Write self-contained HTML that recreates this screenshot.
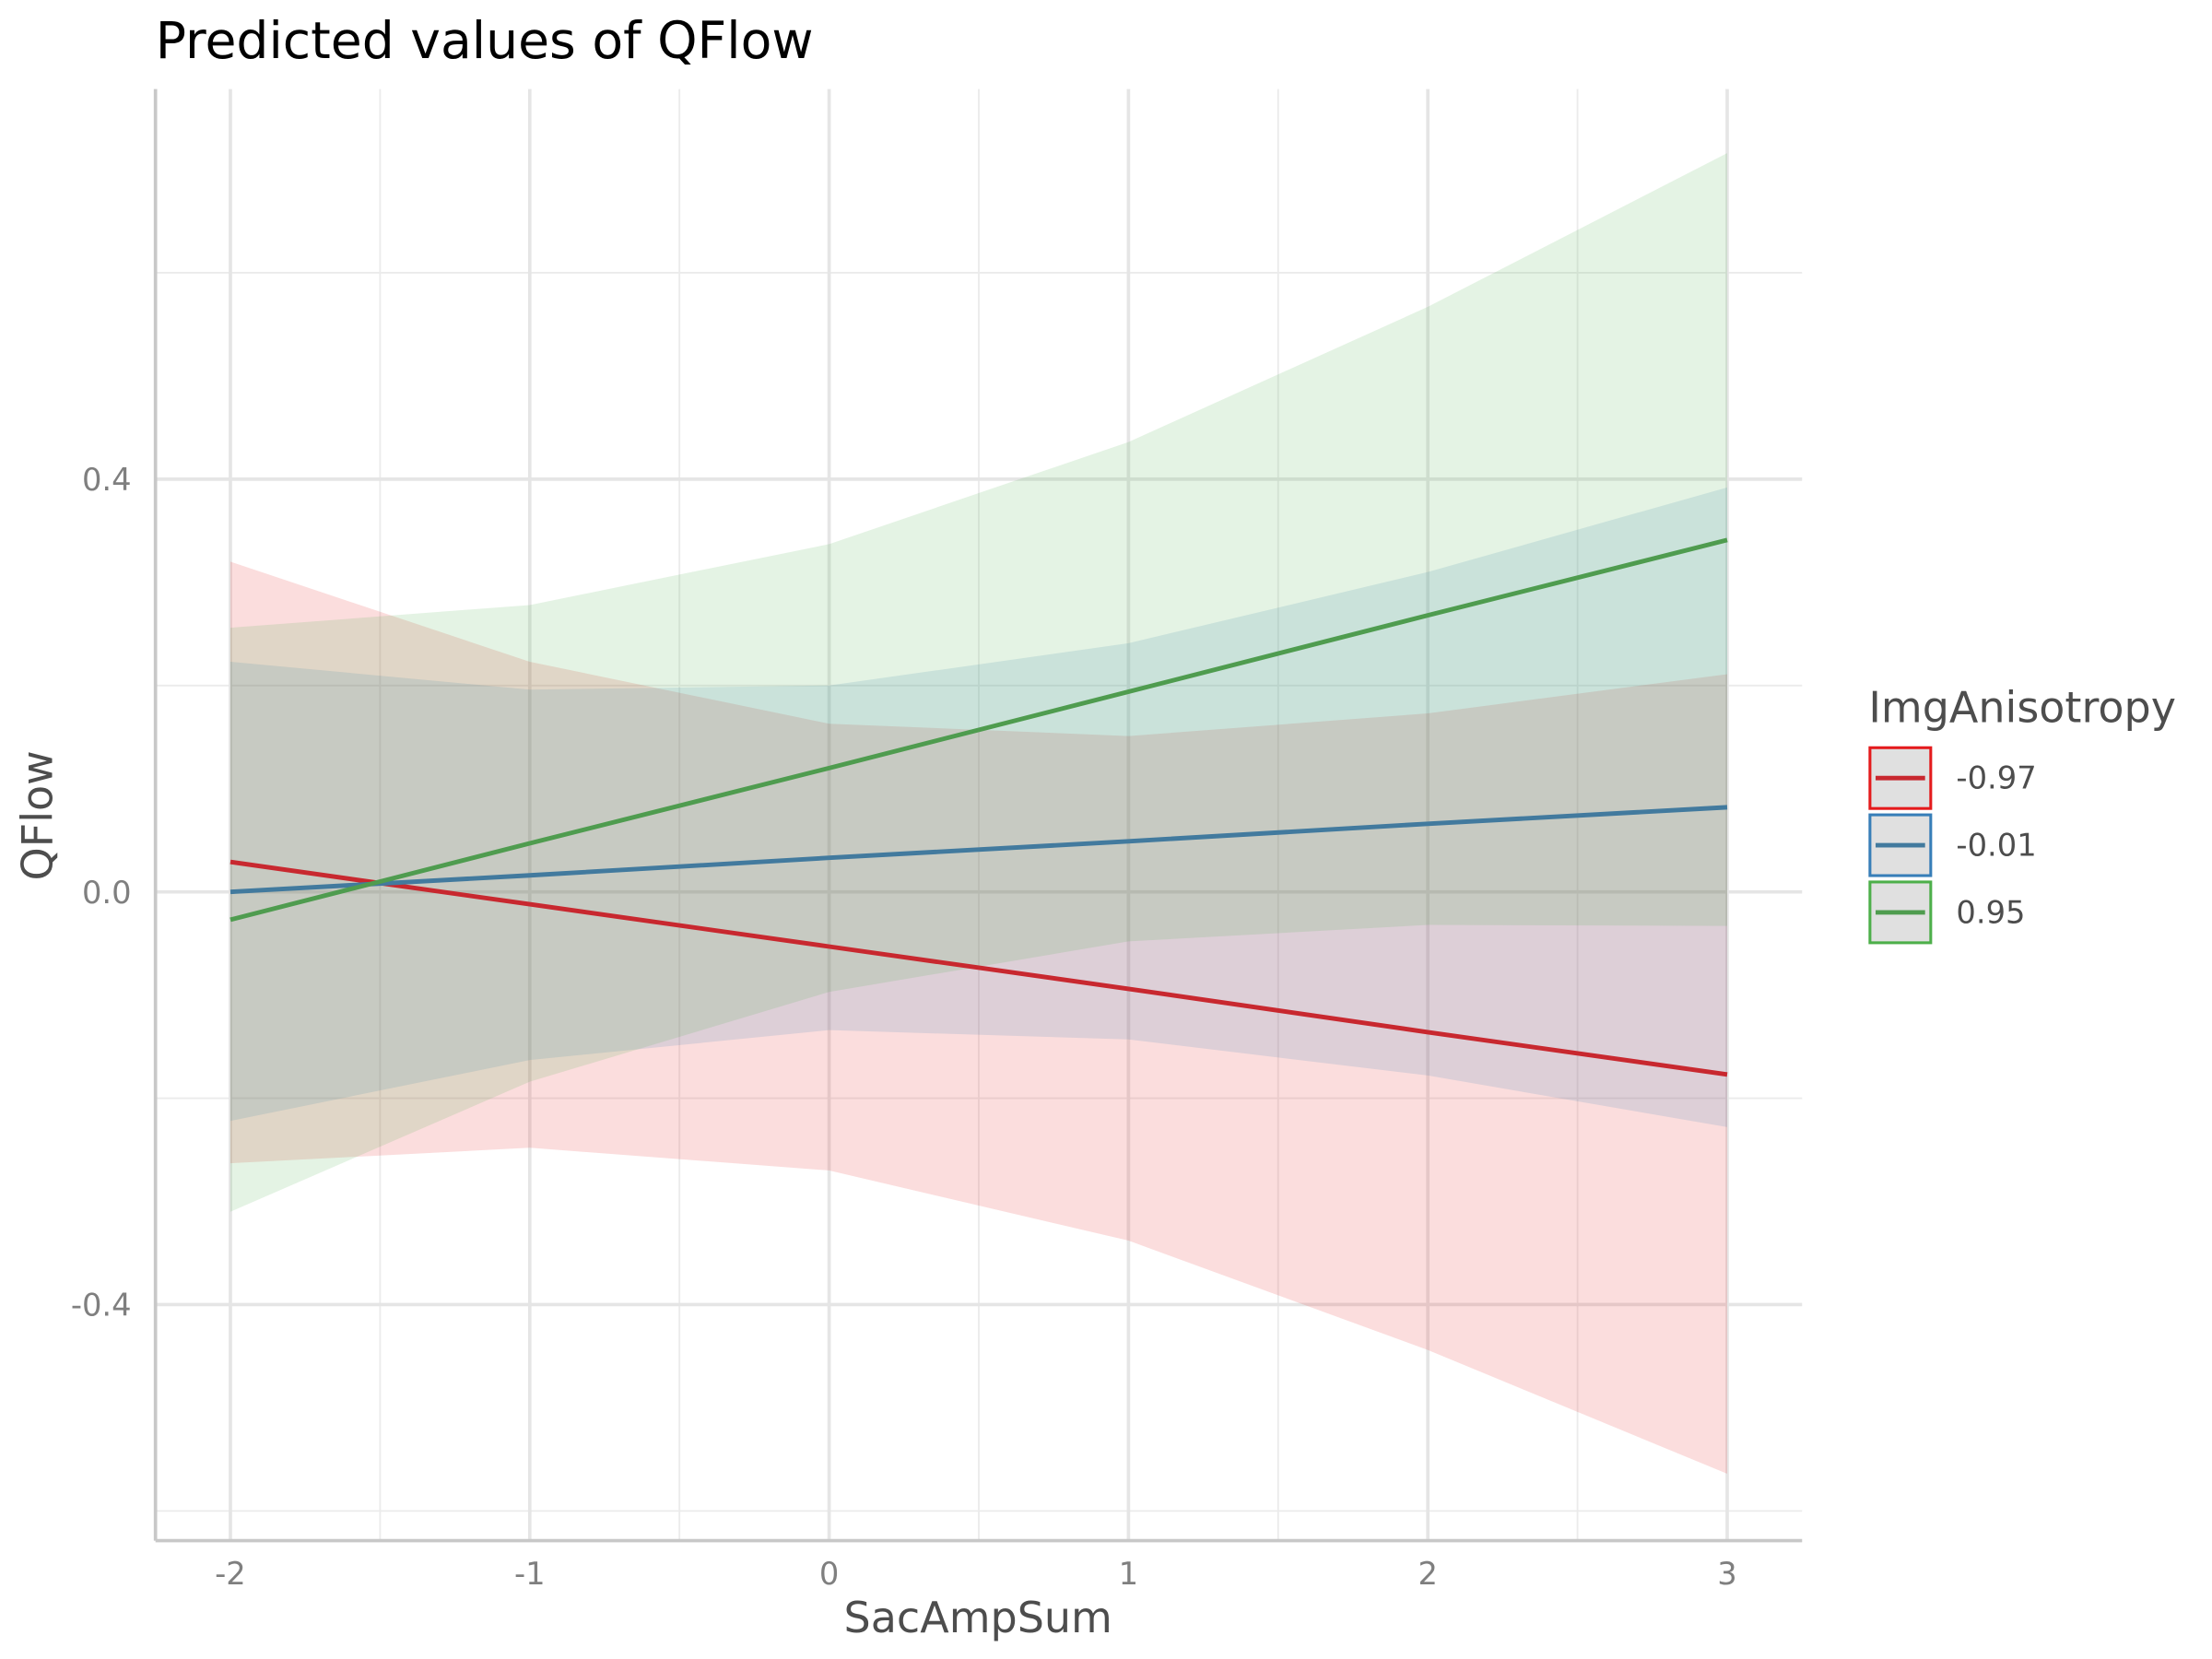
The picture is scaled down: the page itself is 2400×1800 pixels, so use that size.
<!DOCTYPE html>
<html><head><meta charset="utf-8"><style>
html,body{margin:0;padding:0;background:#fff}
svg{display:block}
text{font-family:"DejaVu Sans","Liberation Sans",sans-serif}
</style></head><body>
<svg id="chart" width="2400" height="1800" viewBox="0 0 1565 1173.75" xmlns="http://www.w3.org/2000/svg">
<g id="grid"></g>
<g id="ribbons"></g>
<g id="lines"></g>
<g id="axes"></g>
<text x="110" y="41" font-size="36" fill="#000">Predicted values of QFlow</text>
<text x="692" y="1155" font-size="30" fill="#4d4d4d" text-anchor="middle">SacAmpSum</text>
<text transform="translate(37,577) rotate(-90)" font-size="30" fill="#4d4d4d" text-anchor="middle">QFlow</text>
<g id="legend">
<text x="1322" y="511" font-size="30" fill="#4d4d4d">ImgAnisotropy</text>
</g>
</svg>
<script>
const xVals=[-2,-1,0,1,2,3];
const seriesNames=["-0.97","-0.01","0.95"];
const colors=["#E41A1C","#377EB8","#4DAF4A"];
const lineColors=["#c8282f","#427a9e","#4f9c4f"];
const redFit=[0.029,-0.012,-0.053,-0.094,-0.136,-0.177];
const redHigh=[0.32,0.223,0.163,0.151,0.173,0.211];
const redLow=[-0.263,-0.248,-0.27,-0.338,-0.444,-0.564];
const blueFit=[0,0.016,0.033,0.049,0.066,0.082];
const blueHigh=[0.223,0.196,0.2,0.241,0.31,0.392];
const blueLow=[-0.222,-0.163,-0.134,-0.143,-0.178,-0.228];
const greenFit=[-0.027,0.047,0.12,0.194,0.268,0.341];
const greenHigh=[0.256,0.278,0.337,0.436,0.567,0.716];
const greenLow=[-0.31,-0.184,-0.097,-0.048,-0.032,-0.033];
const xTicks=[-2,-1,0,1,2,3];
const yTicks=[-0.4,0,0.4];
const yMinor=[-0.6,-0.2,0.2,0.6];
const xMinor=[-1.5,-0.5,0.5,1.5,2.5];

const NS="http://www.w3.org/2000/svg";
const X=v=>163+(v+2)*211.8;
const Y=v=>631-v*730;
const L=110,R=1275,T=63,B=1090;
function mk(tag,attrs,parent){const e=document.createElementNS(NS,tag);for(const k in attrs)e.setAttribute(k,attrs[k]);parent.appendChild(e);return e;}
const grid=document.getElementById('grid'),rib=document.getElementById('ribbons'),lin=document.getElementById('lines'),ax=document.getElementById('axes'),leg=document.getElementById('legend');
yMinor.forEach(v=>{const e=mk('line',{x1:L,x2:R,y1:Y(v),y2:Y(v),stroke:'#ebebeb','stroke-width':1.2},grid);

});
xMinor.forEach(v=>{const e=mk('line',{x1:X(v),x2:X(v),y1:T,y2:B,stroke:'#ebebeb','stroke-width':1.2},grid);

});
yTicks.forEach(v=>{const e=mk('line',{x1:L,x2:R,y1:Y(v),y2:Y(v),stroke:'#e5e5e5','stroke-width':2.4},grid);


const t=mk('text',{x:93,y:Y(v)+8,'font-size':22,fill:'#7f7f7f','text-anchor':'end'},ax);t.textContent=v===0?'0.0':v.toFixed(1);

});
xTicks.forEach(v=>{const e=mk('line',{x1:X(v),x2:X(v),y1:T,y2:B,stroke:'#e5e5e5','stroke-width':2.4},grid);


const t=mk('text',{x:X(v),y:1121,'font-size':22,fill:'#7f7f7f','text-anchor':'middle'},ax);t.textContent=String(v);

});
const al=mk('line',{x1:L,x2:L,y1:T,y2:B,stroke:'#c8c8c8','stroke-width':2.4},ax);


const bl=mk('line',{x1:L,x2:R,y1:B,y2:B,stroke:'#c8c8c8','stroke-width':2.4},ax);


const highs=[redHigh,blueHigh,greenHigh],lows=[redLow,blueLow,greenLow],fits=[redFit,blueFit,greenFit];
const keys=['red','blue','green'];
for(let s=0;s<3;s++){
 let d=xVals.map((x,i)=>(i?'L':'M')+X(x)+','+Y(highs[s][i])).join('');
 for(let i=xVals.length-1;i>=0;i--)d+='L'+X(xVals[i])+','+Y(lows[s][i]);
 const p=mk('path',{d:d+'Z',fill:colors[s],'fill-opacity':0.15},rib);
 
 
 const pts=xVals.map((x,i)=>X(x)+','+Y(fits[s][i])).join(' ');
 const l=mk('polyline',{points:pts,fill:'none',stroke:lineColors[s],'stroke-width':3.2},lin);
 
 
 const y0=529+s*47.5;
 const r=mk('rect',{x:1323,y:y0,width:43,height:43,fill:'#e0e0e0',stroke:colors[s],'stroke-width':2},leg);
 
 
 const kl=mk('line',{x1:1327,x2:1362,y1:y0+21.5,y2:y0+21.5,stroke:lineColors[s],'stroke-width':3.2},leg);
 
 
 const t=mk('text',{x:1384,y:y0+29,'font-size':22,fill:'#4d4d4d'},leg);t.textContent=seriesNames[s];
 
 
}
</script>
</body></html>
